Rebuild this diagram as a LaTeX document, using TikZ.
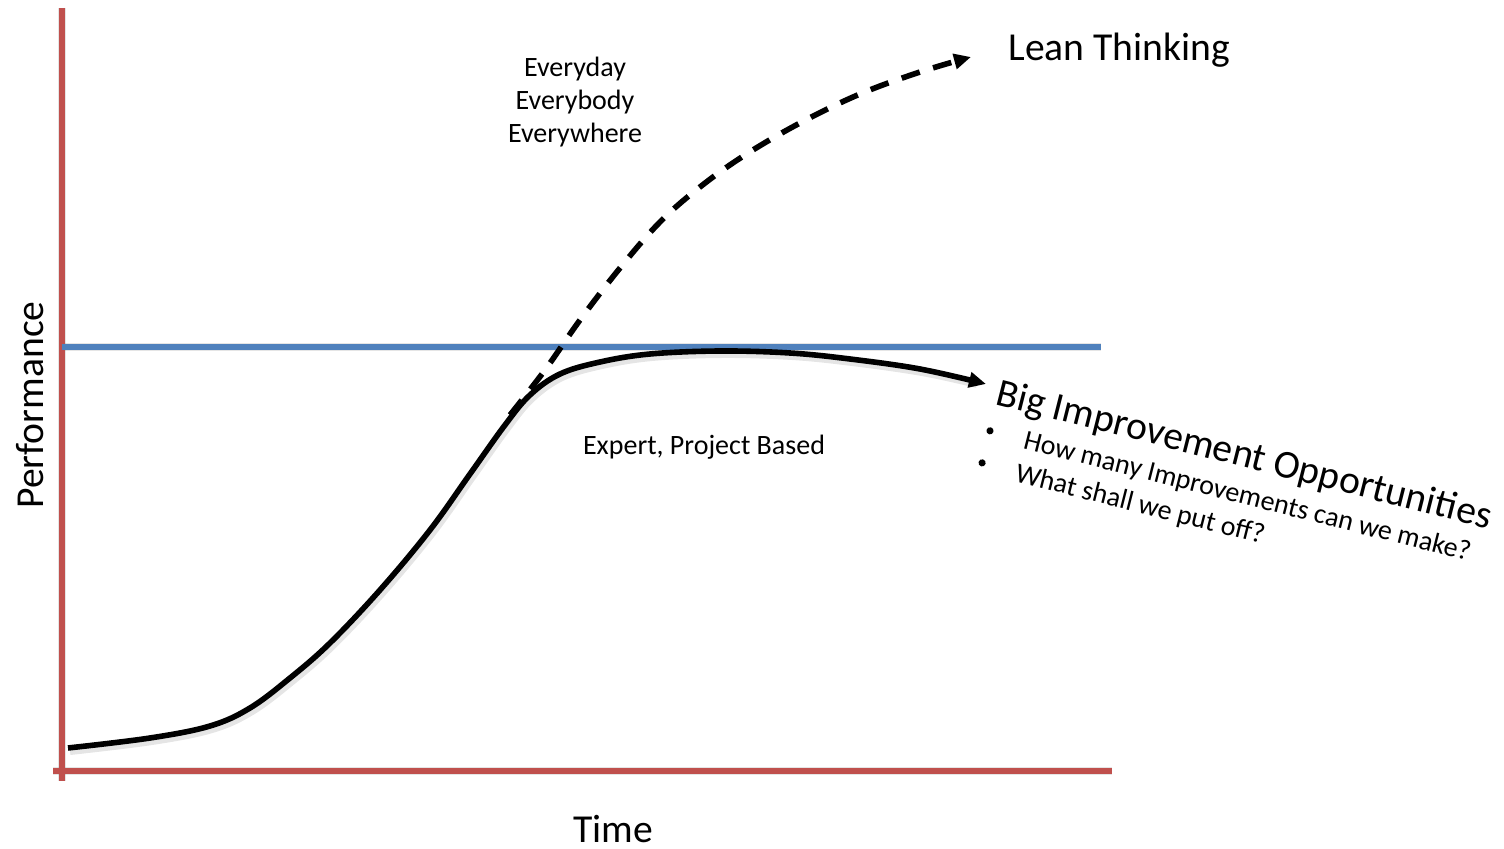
\documentclass[tikz,border=0pt]{standalone}
\usepackage{fontspec}
\setmainfont{Carlito}
\usetikzlibrary{arrows.meta}
\definecolor{axisred}{HTML}{C0504D}
\definecolor{levelblue}{HTML}{4F81BD}
\begin{document}
\begin{tikzpicture}[x=0.5pt,y=-0.5pt,
  axisline/.style={draw=axisred, line width=2.7pt},
  levelline/.style={draw=levelblue, line width=2.9pt},
  trend/.style={draw=black, line width=2.8pt, -{Triangle[length=8.5pt,width=7.5pt]}},
  softshadow/.style={draw=black, opacity=0.10, line width=4pt, shift={(2,3)}},
  small/.style={font=\fontsize{14}{16.5}\selectfont, inner sep=0pt},
  large/.style={font=\fontsize{19.8}{24}\selectfont, inner sep=0pt},
  bullet/.style={circle, fill=black, inner sep=0pt, minimum size=3.6pt}
]
\useasboundingbox (0,0) rectangle (1504,849);

% axes end points
\coordinate (ytop) at (62,8);
\coordinate (ybot) at (62,781);
\coordinate (xleft) at (53,771);
\coordinate (xright) at (1112,771);
\coordinate (lvlA) at (62,347);
\coordinate (lvlB) at (1101,347);

% soft drop shadows under the lines
\draw[softshadow] (ytop) -- (ybot);
\draw[softshadow] (xleft) -- (xright);
\draw[softshadow] (lvlA) -- (lvlB);

% axes and performance level
\draw[axisline] (ytop) -- (ybot);
\draw[axisline] (xleft) -- (xright);
\draw[levelline] (lvlA) -- (lvlB);

% expert / project based curve
\draw[softshadow] plot[smooth, tension=0.6] coordinates {
  (68,748) (150,738) (210,726) (250,708) (290,678) (330,643) (380,590)
  (430,530) (470,474) (505,425) (530,395) (560,374) (600,362) (650,354)
  (720,351) (790,353) (850,359) (920,369) (975,381)};
\draw[trend] plot[smooth, tension=0.6] coordinates {
  (68,748) (150,738) (210,726) (250,708) (290,678) (330,643) (380,590)
  (430,530) (470,474) (505,425) (530,395) (560,374) (600,362) (650,354)
  (720,351) (790,353) (850,359) (920,369) (986,384)};

% lean thinking curve
\draw[trend, dash pattern=on 9.5pt off 7pt] plot[smooth, tension=0.6] coordinates {
  (510,415) (545,370) (580,320) (620,268) (660,222) (700,187) (745,155)
  (800,123) (860,94) (920,72) (971,57)};

% labels
\node[large, anchor=base west] (lean) at (1008,61) {Lean Thinking};
\node[small, align=center] (every) at (575,102) {Everyday\\Everybody\\Everywhere};
\node[small] (expert) at (704,447) {Expert, Project Based};
\node[large, rotate=90] (perf) at (30,405) {Performance};
\node[large] (time) at (613,829) {Time};

\begin{scope}[shift={(994,404)}, rotate=-14.2, transform shape]
  \node[large, anchor=base west] (big) at (0,0) {Big Improvement Opportunities};
  \node[small, anchor=base west] (q1) at (38,36) {How many Improvements can we make?};
  \node[small, anchor=base west] (q2) at (38,70) {What shall we put off?};
  \node[bullet] (b1) at (2.7,27) {};
  \node[bullet] (b2) at (2.9,60) {};
\end{scope}
\end{tikzpicture}
\end{document}
